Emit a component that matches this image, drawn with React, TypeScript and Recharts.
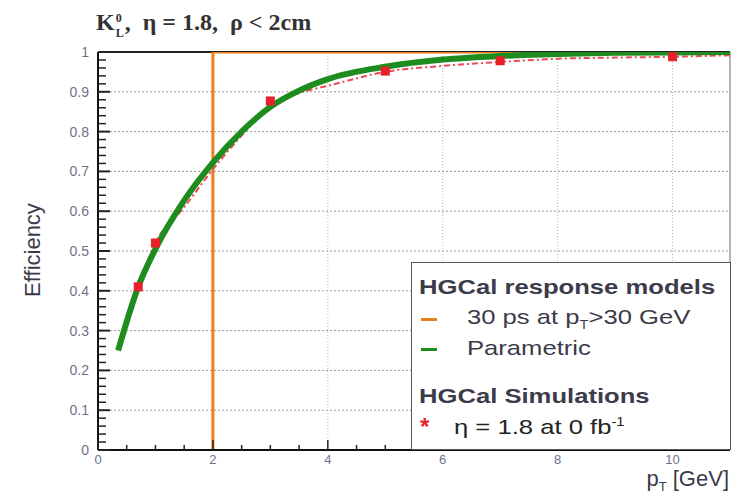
import {
  ComposedChart, Line, Scatter, XAxis, YAxis, ReferenceLine,
} from "recharts";

// simulated efficiency points (K_L^0, eta = 1.8)
const simPt = [0.7, 1.0, 3.0, 5.0, 7.0, 10.0];
const simEff = [0.41, 0.52, 0.877, 0.952, 0.978, 0.988];

// dashed curve through the simulation points
const simCurvePt = [0.7, 1.0, 1.5, 2.0, 2.5, 3.0, 3.5, 4.0, 5.0, 6.0, 7.0, 8.0, 9.0, 10.0, 11.0];
const simCurveEff = [0.41, 0.52, 0.61, 0.705, 0.79, 0.865, 0.897, 0.915, 0.95, 0.965, 0.975, 0.983, 0.986, 0.988, 0.992];

// parametric response model
const paramPt = [0.35, 0.7, 1.0, 1.5, 2.0, 2.5, 3.0, 3.5, 4.0, 5.0, 6.0, 7.0, 8.0, 9.0, 10.0, 11.0];
const paramEff = [0.25, 0.41, 0.505, 0.627, 0.722, 0.8, 0.862, 0.903, 0.932, 0.963, 0.981, 0.99, 0.995, 0.998, 0.999, 1.0];

// 30 ps step model
const stepPt = [2, 2, 11];
const stepEff = [0, 1, 1];

const yMajor = [0, 0.1, 0.2, 0.3, 0.4, 0.5, 0.6, 0.7, 0.8, 0.9, 1];
const xMajor = [0, 2, 4, 6, 8, 10];
const yTicks = Array.from({ length: 51 }, (_, i) => +(i * 0.02).toFixed(2));
const xTicks = Array.from({ length: 23 }, (_, i) => i * 0.5);

const simData = simPt.map((x, i) => ({ x, y: simEff[i] }));
const simCurve = simCurvePt.map((x, i) => ({ x, y: simCurveEff[i] }));
const paramData = paramPt.map((x, i) => ({ x, y: paramEff[i] }));
const stepData = stepPt.map((x, i) => ({ x, y: stepEff[i] }));

const TICK_COLOR = "#6f6f8c";
const TEXT = "#3b3b4a";
const STRETCH = "scaleX(1.22)";

function YTick(props: any) {
  const { x, y, payload } = props;
  const v = payload.value;
  const major = yMajor.some((m) => Math.abs(m - v) < 1e-6);
  return (
    <g>
      <line x1={x} x2={x + (major ? 12 : 8)} y1={y} y2={y} stroke="#222" strokeWidth={major ? 2 : 1.5} />
      {major && (
        <text x={x - 9} y={y} dy={5} textAnchor="end" fontSize={14} fill={TICK_COLOR}>
          {v === 0 ? "0" : String(v)}
        </text>
      )}
    </g>
  );
}

function XTick(props: any) {
  const { x, y, payload } = props;
  const v = payload.value;
  const major = xMajor.includes(v);
  return (
    <g>
      <line x1={x} x2={x} y1={y} y2={y - (major ? 10 : 5)} stroke="#222" strokeWidth={1.5} />
      {major && (
        <text x={x} y={y + 14} textAnchor="middle" fontSize={13} fill={TICK_COLOR}>
          {v}
        </text>
      )}
    </g>
  );
}

function Marker(props: any) {
  const { cx, cy } = props;
  return <rect x={cx - 4.5} y={cy - 4.5} width={9} height={9} fill="#e8202a" />;
}

export default function App() {
  return (
    <div
      style={{
        position: "absolute", left: 0, top: 0, width: 735, height: 499,
        background: "#fff", fontFamily: "'Liberation Sans', Arial, sans-serif",
      }}
    >
      <ComposedChart
        width={735}
        height={499}
        margin={{ top: 52, right: 5, bottom: 0, left: 38 }}
      >
        <XAxis
          type="number" dataKey="x" domain={[0, 11]} ticks={xTicks} interval={0}
          tick={<XTick />} tickLine={false} tickSize={0} tickMargin={0}
          axisLine={{ stroke: "#111", strokeWidth: 2 }} height={49} allowDataOverflow
        />
        <YAxis
          type="number" dataKey="y" domain={[0, 1]} ticks={yTicks} interval={0}
          tick={<YTick />} tickLine={false} tickSize={0} tickMargin={0}
          axisLine={{ stroke: "#111", strokeWidth: 2 }} width={60} allowDataOverflow
        />
        {yMajor.slice(1, 10).map((v) => (
          <ReferenceLine key={"h" + v} y={v} stroke="#9a9a9a" strokeDasharray="2 2" />
        ))}
        {xMajor.slice(2).map((v) => (
          <ReferenceLine key={"v" + v} x={v} stroke="#b5b5b5" strokeDasharray="1 2" />
        ))}
        <ReferenceLine y={1} stroke="#222" strokeWidth={2} />
        <ReferenceLine x={11} stroke="#9a9a9a" strokeWidth={1.5} />
        <Line
          data={stepData} dataKey="y" type="linear" stroke="#f07d1c" strokeWidth={3}
          dot={false} isAnimationActive={false}
        />
        <Line
          data={simCurve} dataKey="y" type="monotone" stroke="#ea4a52" strokeWidth={2}
          strokeDasharray="6 3 2 3" dot={false} isAnimationActive={false}
        />
        <Scatter data={simData} dataKey="y" shape={<Marker />} isAnimationActive={false} />
        <Line
          data={paramData} dataKey="y" type="monotone" stroke="#1e8c1e" strokeWidth={6}
          dot={false} isAnimationActive={false}
        />
      </ComposedChart>

      {/* title */}
      <div
        style={{
          position: "absolute", left: 96, top: 8, fontFamily: "'Liberation Serif', 'Times New Roman', serif",
          fontWeight: "bold", fontSize: 24, lineHeight: "28px", color: "#333", whiteSpace: "pre",
        }}
      >
        K
        <span style={{ position: "relative", display: "inline-block", width: 10, height: 20 }}>
          <span style={{ position: "absolute", left: 1, top: -6, fontSize: 12 }}>0</span>
          <span style={{ position: "absolute", left: 1, top: 9, fontSize: 12 }}>L</span>
        </span>
        {",  η = 1.8,  ρ < 2cm"}
      </div>

      {/* y axis title */}
      <div
        style={{
          position: "absolute", left: 33, top: 250, transform: "translate(-50%, -50%) rotate(-90deg)",
          fontSize: 22, color: TEXT, whiteSpace: "nowrap",
        }}
      >
        Efficiency
      </div>

      {/* x axis title */}
      <div
        style={{
          position: "absolute", right: 6, top: 469, fontSize: 22, lineHeight: "20px",
          color: TEXT, whiteSpace: "nowrap",
        }}
      >
        p<sub style={{ fontSize: 13, lineHeight: 0 }}>T</sub> [GeV]
      </div>

      {/* legend */}
      <div
        style={{
          position: "absolute", left: 411, top: 262, width: 318, height: 186,
          border: "1.5px solid #555", background: "#fff", color: TEXT, fontSize: 21,
        }}
      >
        <div style={{ position: "absolute", left: 7, top: 12, fontWeight: "bold", whiteSpace: "nowrap", transform: STRETCH, transformOrigin: "left" }}>
          HGCal response models
        </div>
        <div style={{ position: "absolute", left: 9, top: 55, width: 16, height: 3, background: "#f07d1c" }} />
        <div style={{ position: "absolute", left: 55, top: 42, whiteSpace: "nowrap", transform: STRETCH, transformOrigin: "left" }}>
          30 ps at p<sub style={{ fontSize: 12 }}>T</sub>&gt;30 GeV
        </div>
        <div style={{ position: "absolute", left: 9, top: 85, width: 16, height: 3, background: "#1e8c1e" }} />
        <div style={{ position: "absolute", left: 55, top: 73, whiteSpace: "nowrap", transform: STRETCH, transformOrigin: "left" }}>
          Parametric
        </div>
        <div style={{ position: "absolute", left: 7, top: 121, fontWeight: "bold", whiteSpace: "nowrap", transform: STRETCH, transformOrigin: "left" }}>
          HGCal Simulations
        </div>
        <div style={{ position: "absolute", left: 8, top: 150, color: "#e8202a", fontSize: 24, fontWeight: "bold" }}>*</div>
        <div style={{ position: "absolute", left: 42, top: 152, whiteSpace: "nowrap", color: "#222", transform: STRETCH, transformOrigin: "left" }}>
          η = 1.8 at 0 fb<sup style={{ fontSize: 12 }}>-1</sup>
        </div>
      </div>
    </div>
  );
}
